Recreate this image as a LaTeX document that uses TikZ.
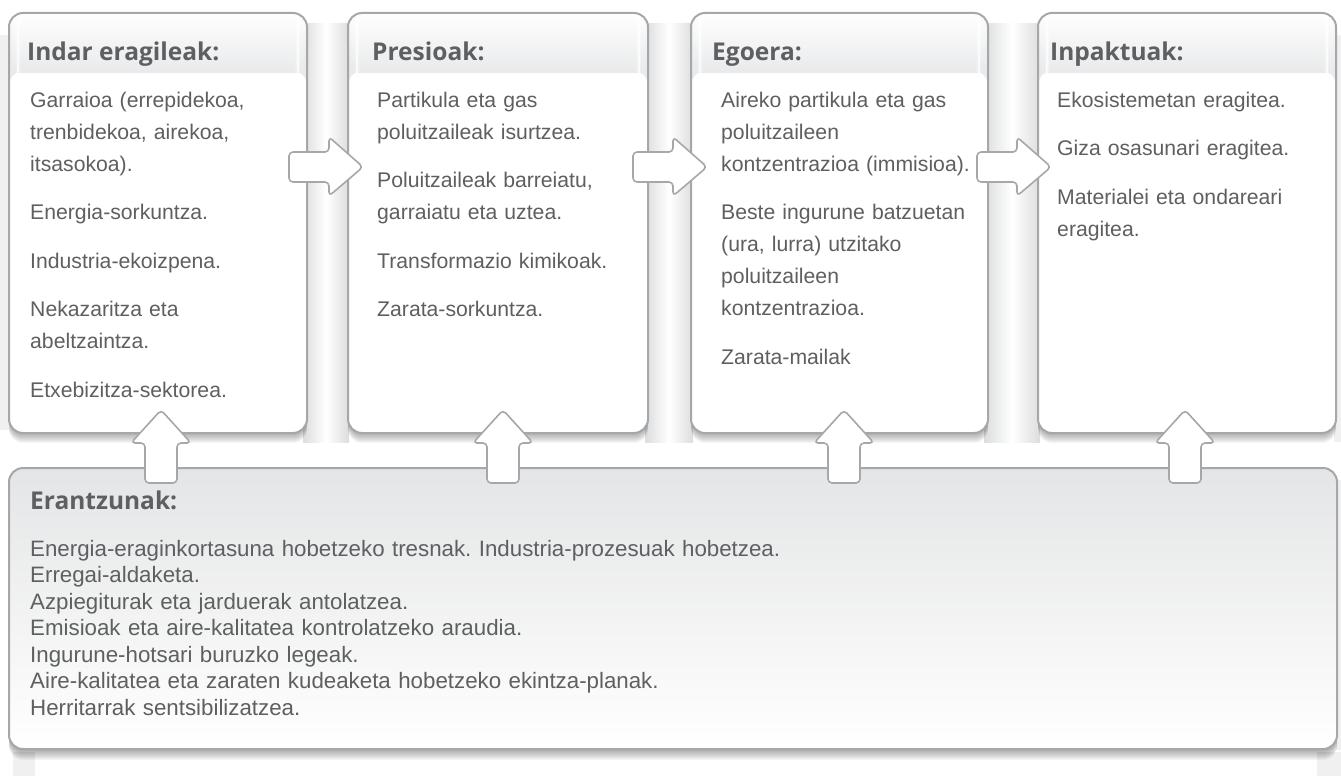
\documentclass[tikz,border=0pt]{standalone}
\usepackage{fontspec}
\setmainfont{Liberation Sans}
\newfontfamily\titlefont{Open Sans}
\usetikzlibrary{calc}
\definecolor{bordergray}{HTML}{A5A7AA}
\definecolor{txtc}{HTML}{5E5F61}
\definecolor{ttlc}{HTML}{5E5F62}
\definecolor{hdr}{HTML}{E9EAEB}
\definecolor{botc}{HTML}{E4E5E6}
\definecolor{pil}{HTML}{DCDDDE}
\definecolor{pillight}{HTML}{F0F0F1}
\frenchspacing
\begin{document}
\begin{tikzpicture}[x=1pt,y=-1pt,
  box/.style={draw=bordergray, line width=2pt, rounded corners=14pt, fill=white, inner sep=0pt, anchor=north west},
  hdrbox/.style={box, path picture={
     \foreach \i in {0,...,29} {
       \pgfmathsetmacro{\pc}{100-3.4*\i}
       \fill[white!\pc!hdr] ([yshift=-2*\i pt]path picture bounding box.north west) rectangle ([yshift=-2*\i pt-2.2pt]path picture bounding box.north east);
     }}},
  ttl/.style={anchor=base west, inner sep=0pt, text=ttlc, font=\titlefont\bfseries\fontsize{24.5}{24.5}\selectfont},
  body/.style={anchor=base west, inner sep=0pt, text=txtc, text width=300pt, align=left, font=\fontsize{21.2}{32}\selectfont\frenchspacing},
  bodyb/.style={body, text width=1000pt, font=\fontsize{22.3}{26.5}\selectfont\frenchspacing},
  arr/.style={draw=bordergray, line width=1.6pt, fill=white, rounded corners=4pt, line join=round}]

\useasboundingbox (0,0) rectangle (1341,776);

% background pillars
\foreach \a/\b in {303/349, 645/693, 984/1040} {
  \shade[left color=pil, right color=pil, middle color=white] (\a,24) rectangle (\b,442);
}
\fill[pillight] (0,35) rectangle (9,430);
\fill[pillight] (1334,35) rectangle (1341,442);
\fill[pillight] (1336,480) rectangle (1341,750);
\fill[pillight] (13,752) rectangle (35,776);
\fill[pillight] (1317,752) rectangle (1341,776);

% shadows
\foreach \x/\w in {8/298, 347/300, 690/297, 1037/298} {
  \foreach \k in {1,...,11} {
    \fill[black, opacity=0.035, rounded corners=14pt] (\x+1,12+\k) rectangle (\x+\w+1,432+\k);
  }
}
\foreach \k in {1,...,12} {
  \fill[black, opacity=0.035, rounded corners=14pt] (9,467+\k) rectangle (1337,748+\k);
}

% boxes
\node[hdrbox, minimum width=298pt, minimum height=420pt] (b1) at (8,12) {};
\node[hdrbox, minimum width=300pt, minimum height=420pt] (b2) at (347,12) {};
\node[hdrbox, minimum width=297pt, minimum height=420pt] (b3) at (690,12) {};
\node[hdrbox, minimum width=298pt, minimum height=420pt] (b4) at (1037,12) {};
\node[box, top color=botc, bottom color=white, minimum width=1328pt, minimum height=281pt] (bb) at (8,467) {};

% right arrows
\foreach \n/\xl in {r1/289, r2/633, r3/977} {
  \coordinate (\n) at (\xl,167);
  \draw[arr] (\n) -- ++(0,-15) -- ++(40,0) -- ++(0,-15) -- ++(34,30) -- ++(-34,29) -- ++(0,-14) -- ++(-40,0) -- cycle;
}
% up arrows
\foreach \n/\cx in {u1/161, u2/503, u3/844, u4/1185} {
  \coordinate (\n) at (\cx,483);
  \draw[arr] (\n) -- ++(-16,0) -- ++(0,-40) -- ++(-14,0) -- ++(30,-33) -- ++(30,33) -- ++(-14,0) -- ++(0,40) -- cycle;
}

% titles
\node[ttl] (t1) at (27,60) {Indar eragileak:};
\node[ttl] (t2) at (372,60) {Presioak:};
\node[ttl] (t3) at (712,60) {Egoera:};
\node[ttl] (t4) at (1050,60) {Inpaktuak:};
\node[ttl] (t5) at (30,509) {Erantzunak:};

% body texts
\node[body] (x1) at (30,107) {Garraioa (errepidekoa,\\ trenbidekoa, airekoa,\\ itsasokoa).\\[16.5pt]
Energia-sorkuntza.\\[16.5pt]
Industria-ekoizpena.\\[16.5pt]
Nekazaritza eta\\ abeltzaintza.\\[16.5pt]
Etxebizitza-sektorea.};
\node[body] (x2) at (377,107) {Partikula eta gas\\ poluitzaileak isurtzea.\\[16.5pt]
Poluitzaileak barreiatu,\\ garraiatu eta uztea.\\[16.5pt]
Transformazio kimikoak.\\[16.5pt]
Zarata-sorkuntza.};
\node[body] (x3) at (721,107) {Aireko partikula eta gas\\ poluitzaileen\\ kontzentrazioa (immisioa).\\[16.5pt]
Beste ingurune batzuetan\\ (ura, lurra) utzitako\\ poluitzaileen\\ kontzentrazioa.\\[16.5pt]
Zarata-mailak};
\node[body] (x4) at (1057,107) {Ekosistemetan eragitea.\\[16.5pt]
Giza osasunari eragitea.\\[16.5pt]
Materialei eta ondareari\\ eragitea.};
\node[bodyb] (x5) at (30,556) {Energia-eraginkortasuna hobetzeko tresnak. Industria-prozesuak hobetzea.\\
Erregai-aldaketa.\\
Azpiegiturak eta jarduerak antolatzea.\\
Emisioak eta aire-kalitatea kontrolatzeko araudia.\\
Ingurune-hotsari buruzko legeak.\\
Aire-kalitatea eta zaraten kudeaketa hobetzeko ekintza-planak.\\
Herritarrak sentsibilizatzea.};
\end{tikzpicture}
\end{document}
